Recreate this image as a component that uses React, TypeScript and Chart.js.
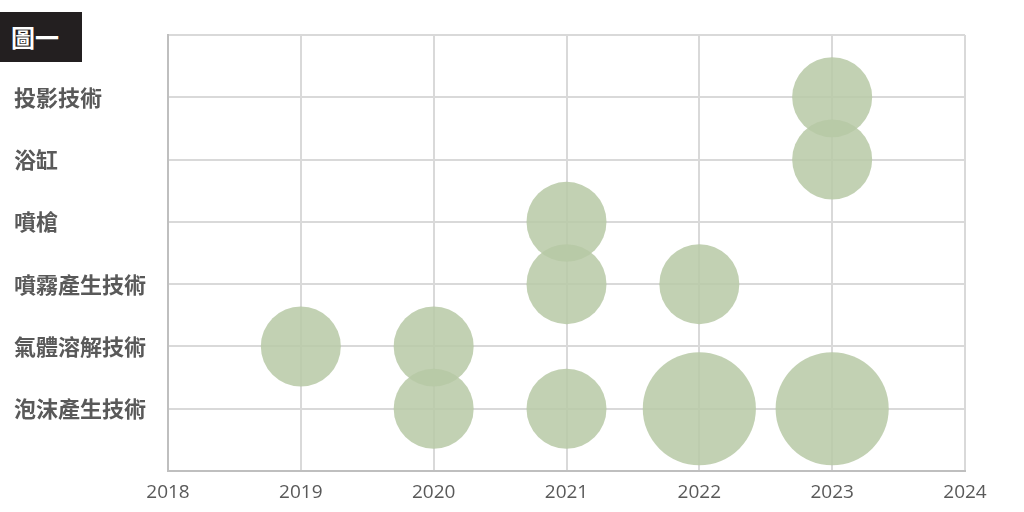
import React, { useEffect, useRef } from "react";
import { Chart, registerables } from "chart.js";

Chart.register(...registerables);

const categories = ["泡沫產生技術", "氣體溶解技術", "噴霧產生技術", "噴槍", "浴缸", "投影技術"];
const xTicks = [2018, 2019, 2020, 2021, 2022, 2023, 2024];
const bubbleYears = [2023, 2023, 2021, 2021, 2022, 2019, 2020, 2020, 2021, 2022, 2023];
const bubbleCategory = ["投影技術", "浴缸", "噴槍", "噴霧產生技術", "噴霧產生技術", "氣體溶解技術", "氣體溶解技術", "泡沫產生技術", "泡沫產生技術", "泡沫產生技術", "泡沫產生技術"];
const bubbleCounts = [1, 1, 1, 1, 1, 1, 1, 1, 1, 2, 2];
const figureLabel = "圖一";

export default function App() {
  const ref = useRef<HTMLCanvasElement>(null);
  useEffect(() => {
    if (!ref.current) return;
    const data = bubbleYears.map((y, i) => ({
      x: y,
      y: categories.indexOf(bubbleCategory[i]) + 1,
      count: bubbleCounts[i],
    }));
    const chart = new Chart(ref.current, {
      type: "bubble",
      data: {
        datasets: [
          {
            data,
            backgroundColor: "rgba(183,201,166,0.85)",
            borderWidth: 0,
            radius: (ctx: any) => 40 * Math.sqrt((ctx.raw && ctx.raw.count) || 1),
            hoverRadius: 0,
            clip: false,
          } as any,
        ],
      },
      options: {
        animation: false,
        responsive: false,
        maintainAspectRatio: false,
        layout: { autoPadding: false, padding: { left: 14, top: 35, right: 59, bottom: 0 } },
        plugins: { legend: { display: false }, tooltip: { enabled: false } },
        scales: {
          x: {
            type: "linear",
            min: xTicks[0],
            max: xTicks[xTicks.length - 1],
            afterBuildTicks: (s: any) => {
              s.ticks = xTicks.map((v) => ({ value: v }));
            },
            afterFit: (s: any) => {
              s.height = 41;
            },
            grid: { color: "#d9d9d9", lineWidth: 2, drawTicks: false },
            border: { color: "#bfbfbf", width: 2 },
            ticks: {
              padding: 10,
              color: "#595959",
              font: { family: "'Open Sans'", size: 19 },
              callback: (v: any) => String(v),
            },
          },
          y: {
            type: "linear",
            min: 0,
            max: categories.length + 1,
            afterBuildTicks: (s: any) => {
              const t = [];
              for (let i = 0; i <= categories.length + 1; i++) t.push({ value: i });
              s.ticks = t;
            },
            afterFit: (s: any) => {
              s.width = 154;
            },
            grid: { color: "#d9d9d9", lineWidth: 2, drawTicks: false },
            border: { color: "#bfbfbf", width: 2 },
            ticks: {
              crossAlign: "far",
              color: "#595959",
              font: { family: "'Noto Sans CJK TC'", size: 22, weight: "bold" },
              callback: (v: any) => (v >= 1 && v <= categories.length ? categories[v - 1] : ""),
            },
          },
        },
      },
    });
    return () => chart.destroy();
  }, []);
  return (
    <div style={{ position: "fixed", left: 0, top: 0, width: 1024, height: 512, background: "#fff" }}>
      <canvas ref={ref} width={1024} height={512} style={{ position: "absolute", left: 0, top: 0 }} />
      <div
        style={{
          position: "absolute",
          left: 0,
          top: 12,
          width: 82,
          height: 50,
          background: "#231f20",
          color: "#fff",
          fontFamily: "'Noto Sans CJK TC'",
          fontWeight: 700,
          fontSize: 24,
          lineHeight: "50px",
          paddingLeft: 11,
          boxSizing: "border-box",
        }}
      >
        {figureLabel}
      </div>
    </div>
  );
}
